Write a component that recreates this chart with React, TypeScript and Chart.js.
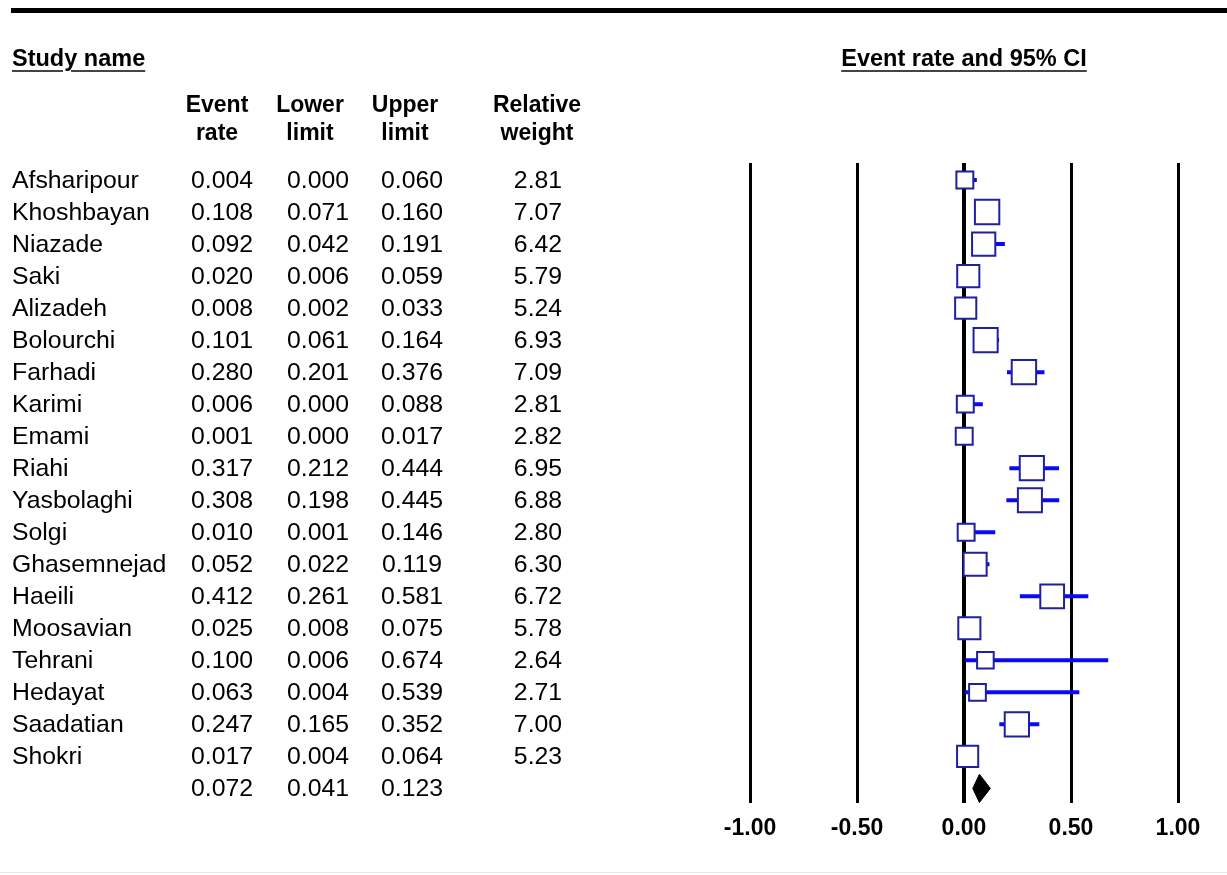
import React, { useEffect, useRef } from "react";
import { Chart, registerables } from "chart.js";

Chart.register(...registerables);

const studies = [
  "Afsharipour", "Khoshbayan", "Niazade", "Saki", "Alizadeh", "Bolourchi",
  "Farhadi", "Karimi", "Emami", "Riahi", "Yasbolaghi", "Solgi",
  "Ghasemnejad", "Haeili", "Moosavian", "Tehrani", "Hedayat", "Saadatian", "Shokri",
];
const eventRate = [0.004, 0.108, 0.092, 0.020, 0.008, 0.101, 0.280, 0.006, 0.001, 0.317, 0.308, 0.010, 0.052, 0.412, 0.025, 0.100, 0.063, 0.247, 0.017];
const lowerLimit = [0.000, 0.071, 0.042, 0.006, 0.002, 0.061, 0.201, 0.000, 0.000, 0.212, 0.198, 0.001, 0.022, 0.261, 0.008, 0.006, 0.004, 0.165, 0.004];
const upperLimit = [0.060, 0.160, 0.191, 0.059, 0.033, 0.164, 0.376, 0.088, 0.017, 0.444, 0.445, 0.146, 0.119, 0.581, 0.075, 0.674, 0.539, 0.352, 0.064];
const relWeight = [2.81, 7.07, 6.42, 5.79, 5.24, 6.93, 7.09, 2.81, 2.82, 6.95, 6.88, 2.80, 6.30, 6.72, 5.78, 2.64, 2.71, 7.00, 5.23];
const summaryRate = 0.072;
const summaryLower = 0.041;
const summaryUpper = 0.123;
const xMin = -1;
const xMax = 1;
const xStep = 0.5;

const FONT = "'Liberation Sans', Arial, Helvetica, sans-serif";
const ROW_TOP = 180;
const ROW_H = 32;
const AREA_TOP = 163;
const AREA_BOTTOM = 803;

function ForestChart() {
  const ref = useRef<HTMLCanvasElement | null>(null);
  useEffect(() => {
    if (!ref.current) return;
    const n = studies.length;
    const ciSets = studies.map((_, i) => ({
      data: [
        { x: lowerLimit[i], y: i },
        { x: upperLimit[i], y: i },
      ],
      showLine: true,
      borderColor: "#0a0af0",
      borderWidth: 4,
      pointRadius: 0,
      order: 3,
    }));
    const boxSet = {
      data: eventRate.map((v, i) => ({ x: v, y: i })),
      showLine: false,
      pointStyle: "rect",
      pointRadius: relWeight.map((w) => (14 + 1.75 * w - 2) / Math.SQRT2),
      pointBackgroundColor: "#ffffff",
      pointBorderColor: "#1f1fa0",
      pointBorderWidth: 2,
      order: 1,
    };
    const half = 0.44;
    const diamond = {
      data: [
        { x: summaryLower, y: n },
        { x: summaryRate, y: n - half },
        { x: summaryUpper, y: n },
        { x: summaryRate, y: n + half },
        { x: summaryLower, y: n },
      ],
      showLine: true,
      fill: "shape",
      backgroundColor: "#000000",
      borderColor: "#000000",
      borderWidth: 1,
      pointRadius: 0,
      tension: 0,
      order: 2,
    };
    const chart = new Chart(ref.current, {
      type: "scatter",
      data: { datasets: [...ciSets, boxSet, diamond] as any },
      options: {
        responsive: false,
        animation: false,
        layout: { padding: { left: 750, right: 49, top: AREA_TOP, bottom: 22 } },
        plugins: { legend: { display: false }, tooltip: { enabled: false } },
        scales: {
          x: {
            type: "linear",
            min: xMin,
            max: xMax,
            grid: {
              display: true,
              drawTicks: false,
              color: "#000000",
              lineWidth: (ctx: any) => (ctx.tick && ctx.tick.value === 0 ? 4 : 3),
            },
            border: { display: false },
            ticks: {
              stepSize: xStep,
              padding: 11,
              color: "#000000",
              font: { family: FONT, size: 23, weight: "bold" },
              callback: (v: any) => Number(v).toFixed(2),
            },
          },
          y: {
            type: "linear",
            min: -(ROW_TOP - AREA_TOP) / ROW_H,
            max: (AREA_BOTTOM - ROW_TOP) / ROW_H,
            reverse: true,
            display: false,
          },
        },
      } as any,
    });
    return () => chart.destroy();
  }, []);
  return (
    <canvas
      ref={ref}
      width={1227}
      height={875}
      style={{ position: "absolute", left: 0, top: 0, width: 1227, height: 875 }}
    />
  );
}

const colCenters = [222, 318, 412, 538];
const headCenters = [217, 310, 405, 537];
const headTop = ["Event", "Lower", "Upper", "Relative"];
const headBottom = ["rate", "limit", "limit", "weight"];

export default function App() {
  const rowStyle = (i: number): React.CSSProperties => ({
    position: "absolute",
    top: ROW_TOP - ROW_H / 2 + ROW_H * i,
    height: ROW_H,
    lineHeight: ROW_H + "px",
    fontSize: 24.8,
    whiteSpace: "nowrap",
  });
  const cell = (cx: number, i: number, txt: string, key: string) => (
    <div key={key} style={{ ...rowStyle(i), left: cx - 60, width: 120, textAlign: "center" }}>
      {txt}
    </div>
  );
  const textCells: React.ReactNode[] = [];
  studies.forEach((s, i) => {
    textCells.push(
      <div key={"n" + i} style={{ ...rowStyle(i), left: 12 }}>
        {s}
      </div>
    );
    textCells.push(cell(colCenters[0], i, eventRate[i].toFixed(3), "e" + i));
    textCells.push(cell(colCenters[1], i, lowerLimit[i].toFixed(3), "l" + i));
    textCells.push(cell(colCenters[2], i, upperLimit[i].toFixed(3), "u" + i));
    textCells.push(cell(colCenters[3], i, relWeight[i].toFixed(2), "w" + i));
  });
  const s = studies.length;
  textCells.push(cell(colCenters[0], s, summaryRate.toFixed(3), "se"));
  textCells.push(cell(colCenters[1], s, summaryLower.toFixed(3), "sl"));
  textCells.push(cell(colCenters[2], s, summaryUpper.toFixed(3), "su"));

  const headStyle: React.CSSProperties = {
    position: "absolute",
    fontSize: 23.5,
    fontWeight: "bold",
    lineHeight: "32px",
    height: 32,
    whiteSpace: "nowrap",
    textDecoration: "underline",
    textDecorationThickness: "2px",
    textUnderlineOffset: "4px",
    textDecorationColor: "#444",
  };

  return (
    <div
      style={{
        position: "absolute",
        left: 0,
        top: 0,
        width: 1227,
        height: 875,
        background: "#ffffff",
        fontFamily: FONT,
        color: "#000",
        overflow: "hidden",
      }}
    >
      <div style={{ position: "absolute", left: 11, top: 8, width: 1216, height: 5, background: "#000" }} />
      <div style={{ position: "absolute", left: 0, top: 872, width: 1227, height: 1, background: "#e6e6e6" }} />
      <ForestChart />
      <div style={{ ...headStyle, left: 12, top: 42 }}>Study name</div>
      <div style={{ ...headStyle, left: 764, width: 400, top: 42, textAlign: "center" }}>
        Event rate and 95% CI
      </div>
      {headTop.map((t, k) => (
        <div
          key={"ht" + k}
          style={{
            position: "absolute",
            left: headCenters[k] - 70,
            width: 140,
            top: 90,
            textAlign: "center",
            fontSize: 23,
            fontWeight: "bold",
            lineHeight: "28px",
          }}
        >
          {t}
          <br />
          {headBottom[k]}
        </div>
      ))}
      {textCells}
    </div>
  );
}
